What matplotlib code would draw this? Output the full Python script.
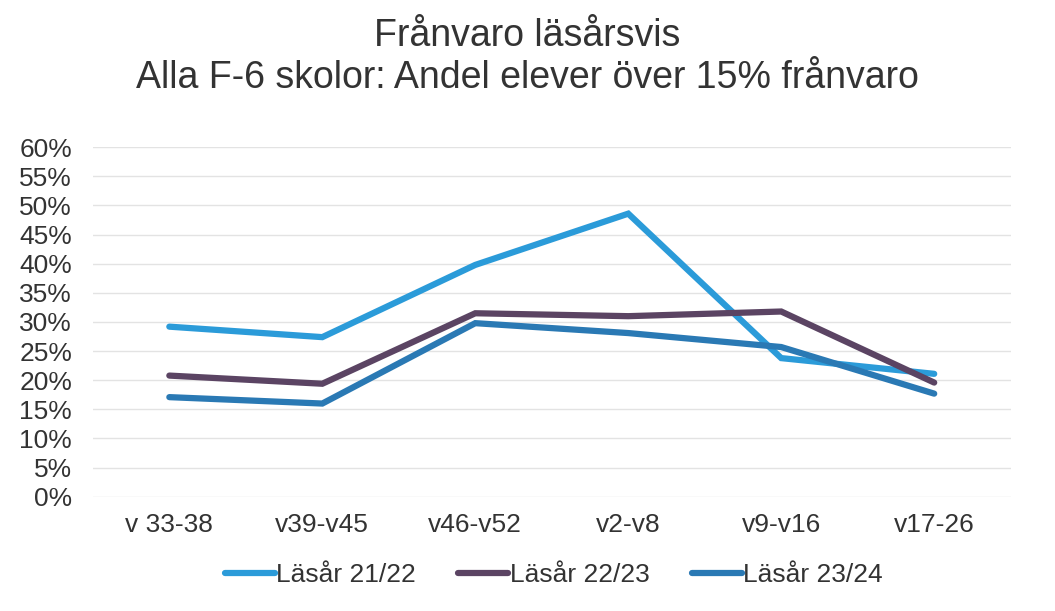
import matplotlib
matplotlib.use("Agg")
import matplotlib.pyplot as plt
from matplotlib.ticker import PercentFormatter

plt.rcParams['font.family'] = ['Liberation Sans', 'DejaVu Sans']

categories = ["v 33-38", "v39-v45", "v46-v52", "v2-v8", "v9-v16", "v17-26"]
series_names = ["Läsår 21/22", "Läsår 22/23", "Läsår 23/24"]
s2122 = [29.2, 27.4, 39.8, 48.6, 23.8, 21.1]
s2223 = [20.8, 19.4, 31.5, 31.0, 31.8, 19.6]
s2324 = [17.1, 16.0, 29.8, 28.1, 25.7, 17.7]
yticks = list(range(0, 61, 5))

colors = ["#2b9bd9", "#5b4463", "#2a79b4"]

fig = plt.figure(figsize=(10.55, 6.11), dpi=100)
ax = fig.add_axes([0.088, 0.187, 0.87, 0.572])

x = list(range(len(categories)))
for vals, name, c in zip([s2122, s2223, s2324], series_names, colors):
    ax.plot(x, vals, color=c, lw=4.5, label=name, solid_capstyle='round', solid_joinstyle='miter')

ax.set_xlim(-0.5, len(categories) - 0.5)
ax.set_ylim(0, 60)
ax.set_yticks(yticks)
ax.yaxis.set_major_formatter(PercentFormatter(decimals=0))
ax.set_xticks(x)
ax.set_xticklabels(categories)
ax.tick_params(axis='both', length=0, labelsize=19, colors="#333333")
ax.tick_params(axis='x', pad=12)
ax.tick_params(axis='y', pad=15)
ax.grid(axis='y', color="#e3e3e3", lw=1)
ax.set_axisbelow(True)
for s in ax.spines.values():
    s.set_visible(False)

fig.suptitle("Frånvaro läsårsvis\nAlla F-6 skolor: Andel elever över 15% frånvaro",
             fontsize=27, color="#333333", y=0.97, linespacing=1.2)

leg = fig.legend(loc="lower center", bbox_to_anchor=(0.525, 0.0), ncol=3, frameon=False,
                 fontsize=19, handlelength=1.9, handletextpad=0.05, columnspacing=1.6)
for t in leg.get_texts():
    t.set_color("#333333")

fig.savefig("out.png", dpi=100)
